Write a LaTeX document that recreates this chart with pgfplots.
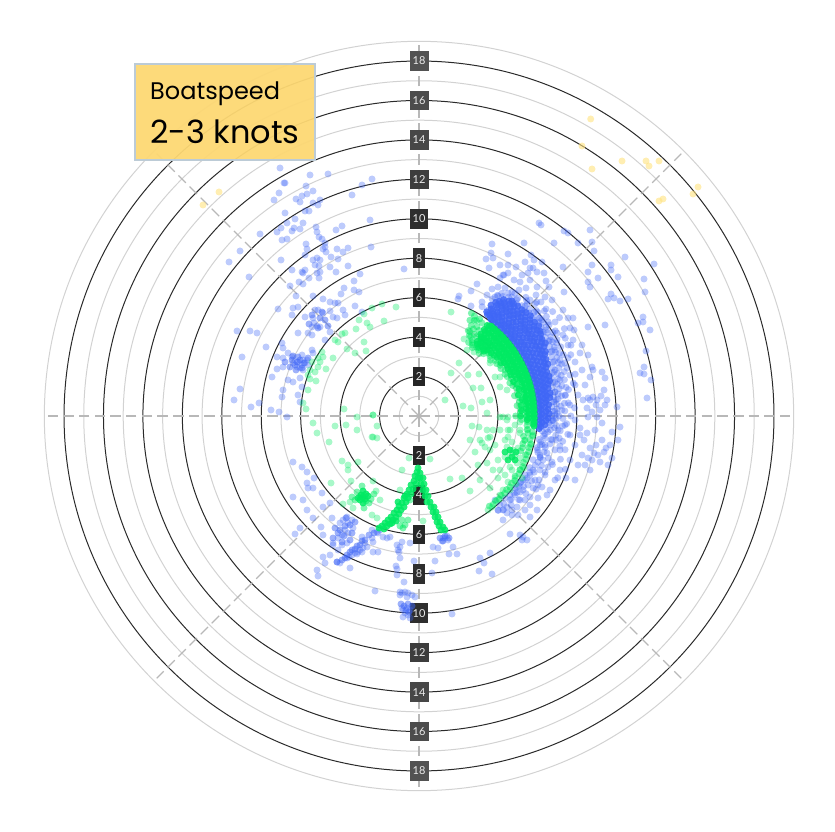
\documentclass[border=0pt]{standalone}
\usepackage{pgfplots}
\pgfplotsset{compat=1.18}
\usepgfplotslibrary{polar}
\usepackage{fontspec}
\setmainfont{Lato}
\newfontfamily\boxfont{Poppins}
\definecolor{ringk}{HTML}{2A2A2A}
\definecolor{ringg}{HTML}{D2D2D2}
\definecolor{spoke}{HTML}{B8B8B8}
\definecolor{bdot}{HTML}{3F66F6}
\definecolor{gdot}{HTML}{00EA62}
\definecolor{ydot}{HTML}{FFE27E}
\definecolor{boxf}{HTML}{FDD873}
\definecolor{boxb}{HTML}{BCCBD6}
\pgfkeys{/pgfplots/table/px/.style={row sep=\\,header=false,x expr=(\thisrowno{0}-419)/19.72,y expr=(416-\thisrowno{1})/19.72}}
\pgfplotsset{
 dots/.style n args={2}{only marks,mark=*,mark size=3.5pt,mark options={draw=#1,draw opacity=0,line width=0pt,fill=#1,fill opacity=#2}},
}
% position in knots, text, box width, box grey
\newcommand{\ringlabel}[4]{\node[fill=black!#4,text=white!92!black,inner sep=0pt,minimum width=#3,minimum height=19.5pt,font=\fontsize{11}{11}\selectfont] at (axis cs:0,#1) {#2};}
\begin{document}
\begin{tikzpicture}
\useasboundingbox (0,0) rectangle (835pt,831pt);
\begin{axis}[
 at={(0,0)},anchor=south west,scale only axis,width=835pt,height=831pt,
 xmin=-21.2475,xmax=21.0953,ymin=-21.0446,ymax=21.0953,
 hide axis,clip=true]
% rings
\draw[ringg,line width=1pt] (axis cs:0,0) circle[radius=1];
\draw[ringk,line width=1pt] (axis cs:0,0) circle[radius=2];
\draw[ringg,line width=1pt] (axis cs:0,0) circle[radius=3];
\draw[ringk,line width=1pt] (axis cs:0,0) circle[radius=4];
\draw[ringg,line width=1pt] (axis cs:0,0) circle[radius=5];
\draw[ringk,line width=1pt] (axis cs:0,0) circle[radius=6];
\draw[ringg,line width=1pt] (axis cs:0,0) circle[radius=7];
\draw[ringk,line width=1pt] (axis cs:0,0) circle[radius=8];
\draw[ringg,line width=1pt] (axis cs:0,0) circle[radius=9];
\draw[ringk,line width=1pt] (axis cs:0,0) circle[radius=10];
\draw[ringg,line width=1pt] (axis cs:0,0) circle[radius=11];
\draw[ringk,line width=1pt] (axis cs:0,0) circle[radius=12];
\draw[ringg,line width=1pt] (axis cs:0,0) circle[radius=13];
\draw[ringk,line width=1pt] (axis cs:0,0) circle[radius=14];
\draw[ringg,line width=1pt] (axis cs:0,0) circle[radius=15];
\draw[ringk,line width=1pt] (axis cs:0,0) circle[radius=16];
\draw[ringg,line width=1pt] (axis cs:0,0) circle[radius=17];
\draw[ringk,line width=1pt] (axis cs:0,0) circle[radius=18];
\draw[ringg,line width=1pt] (axis cs:0,0) circle[radius=19];
% spokes
\draw[spoke,line width=1.4pt,dash pattern=on 10.5pt off 5.2pt] (axis cs:0,0)--(axis cs:18.8,0);
\draw[spoke,line width=1.4pt,dash pattern=on 10.5pt off 5.2pt] (axis cs:0,0)--(axis cs:-18.8,0);
\draw[spoke,line width=1.4pt,dash pattern=on 10.5pt off 5.2pt] (axis cs:0,0)--(axis cs:0,18.8);
\draw[spoke,line width=1.4pt,dash pattern=on 10.5pt off 5.2pt] (axis cs:0,0)--(axis cs:0,-18.8);
\draw[spoke,line width=1.1pt,dash pattern=on 10.5pt off 5.2pt] (axis cs:0,0)--(axis cs:13.3,13.3);
\draw[spoke,line width=1.1pt,dash pattern=on 10.5pt off 5.2pt] (axis cs:0,0)--(axis cs:-13.3,13.3);
\draw[spoke,line width=1.1pt,dash pattern=on 10.5pt off 5.2pt] (axis cs:0,0)--(axis cs:13.3,-13.3);
\draw[spoke,line width=1.1pt,dash pattern=on 10.5pt off 5.2pt] (axis cs:0,0)--(axis cs:-13.3,-13.3);
% yellow
\addplot[dots={ydot}{0.6}] table[px] {590.7 119\\582 146\\622 161\\592 169\\646 161\\649 166\\659 161\\698 187\\693 194\\663 199\\659 201\\219 192\\203 205\\};
% blue, scattered
\addplot[dots={bdot}{0.34}] table[px] {280 168\\310 175\\328 174\\372 179\\362 185\\285 183\\284 183\\279 193\\274 200\\296 199\\300 202\\302 196\\307 194\\313 191\\306 186\\352 195\\313 203\\318 205\\320 200\\305 211\\309 211\\285 213\\295 219\\287 223\\303 223\\277 232\\281 228\\292 231\\294 228\\300 229\\316 227\\317 232\\319 237\\322 239\\342 226\\336 230\\370 220\\260 234\\282 240\\287 239\\306 244\\307 249\\325 243\\325 247\\326 252\\323 249\\337 249\\343 252\\348 248\\371 247\\240 251\\229 262\\281 260\\305 255\\313 260\\317 258\\320 260\\315 265\\319 266\\331 257\\338 259\\330 267\\336 272\\348 266\\404 269\\249 277\\292 270\\302 272\\303 273\\305 270\\317 273\\320 272\\319 278\\309 278\\360 274\\354 281\\299 282\\303 284\\290 286\\296 296\\344 288\\341 294\\354 290\\359 292\\313 296\\323 299\\330 302\\335 303\\338 303\\278 309\\293 308\\298 307\\292 315\\305 317\\315 310\\318 310\\323 313\\330 311\\333 317\\337 318\\343 310\\345 315\\355 306\\362 312\\313 318\\314 323\\317 326\\312 327\\320 327\\330 332\\298 333\\308 333\\312 335\\325 340\\237 331\\250 331\\257 333\\266 347\\282 343\\283 348\\242 357\\277 357\\283 358\\288 353\\292 357\\302 355\\312 350\\313 353\\298 362\\302 365\\305 363\\297 367\\300 368\\303 370\\308 365\\303 360\\307 360\\293 363\\283 367\\277 369\\272 377\\288 380\\293 382\\300 378\\283 390\\282 397\\240 389\\234 400\\259 403\\251 407\\271 410\\279 412\\287 417\\298 395\\300 402\\302 387\\
539 223\\541 225\\564 231\\568 233\\590 230\\578 243\\592 242\\594 251\\554 243\\524 243\\492 244\\491 253\\508 254\\486 259\\493 258\\489 268\\500 265\\508 265\\516 267\\534 260\\542 262\\530 268\\533 268\\528 273\\522 275\\508 273\\503 275\\500 278\\520 282\\530 280\\537 287\\544 273\\546 281\\563 267\\588 272\\592 265\\611 265\\611 270\\625 257\\654 264\\618 277\\644 279\\598 278\\588 282\\590 287\\564 292\\611 294\\614 298\\608 299\\620 301\\628 299\\645 292\\492 289\\498 287\\477 284\\471 291\\459 296\\458 299\\482 302\\471 306\\487 295\\495 297\\488 310\\545 297\\530 300\\546 309\\568 318\\573 318\\574 330\\588 327\\605 325\\638 323\\643 317\\643 322\\650 330\\646 351\\644 367\\640 373\\644 374\\651 380\\647 398\\620 427\\612 432\\605 378\\604 390\\607 400\\617 407\\600 410\\597 417\\602 423\\595 430\\587 433\\580 428\\588 417\\588 398\\593 397\\597 400\\583 400\\590 377\\592 367\\593 370\\575 362\\580 353\\582 345\\573 340\\563 335\\568 358\\557 333\\
445 538\\447 536\\442 541\\443 538\\448 540\\433 547\\438 548\\449 554\\457 554\\453 547\\435 561\\432 573\\414 561\\396 566\\400 558\\397 569\\397 575\\404 582\\400 592\\402 593\\405 592\\400 595\\408 593\\407 597\\412 595\\415 597\\375 591\\403 610\\407 608\\410 610\\405 613\\408 615\\403 617\\410 618\\452 614\\402 608\\400 547\\398 550\\402 542\\397 545\\399 552\\410 543\\377 532\\372 538\\373 542\\378 533\\367 547\\363 548\\362 552\\358 552\\355 553\\352 555\\360 550\\357 554\\349 557\\365 543\\380 530\\383 537\\387 538\\390 537\\373 552\\378 552\\372 530\\362 537\\343 520\\347 517\\340 523\\348 523\\352 520\\353 528\\345 530\\342 535\\338 538\\333 545\\348 533\\347 543\\342 545\\338 550\\323 557\\325 563\\337 562\\340 563\\330 555\\317 570\\318 576\\350 568\\347 558\\332 518\\313 518\\307 510\\303 500\\308 488\\313 488\\293 462\\302 467\\307 472\\314 478\\307 483\\293 497\\322 493\\323 507\\330 503\\321 527\\323 535\\295 534\\300 528\\333 543\\480 558\\484 563\\479 571\\492 574\\490 553\\503 510\\507 513\\512 510\\503 520\\507 507\\517 507\\510 534\\520 535\\523 537\\527 540\\522 540\\530 517\\538 498\\537 510\\523 490\\520 483\\523 480\\528 485\\533 488\\540 470\\543 460\\547 453\\548 467\\540 457\\545 475\\542 487\\547 495\\520 492\\530 497\\517 487\\
495 500\\500 505\\505 498\\510 500\\515 495\\520 500\\525 500\\512 515\\498 510\\518 515\\525 510\\530 505\\535 480\\538 485\\530 475\\527 478\\533 470\\538 462\\545 445\\552 440\\558 430\\565 425\\570 435\\575 445\\582 455\\578 465\\570 460\\560 450\\552 462\\560 470\\566 478\\555 480\\550 490\\575 480\\590 470\\585 465\\592 460\\598 455\\604 452\\612 458\\608 465\\596 445\\590 448\\584 440\\602 440\\610 445\\618 440\\575 420\\580 435\\555 415\\562 410\\570 405\\578 395\\575 385\\565 395\\556 400\\585 385\\570 375\\560 380\\555 370\\548 385\\550 395\\560 360\\568 345\\555 350\\570 328\\582 370\\588 355\\602 372\\553 420\\548 432\\556 440\\540 445\\
504 275\\514 280\\525 262\\531 255\\519 290\\526 288\\537 272\\512 292\\536 295\\541 302\\549 287\\552 300\\505 288\\498 296\\540 318\\555 322\\563 310\\590 400\\596 405\\601 396\\587 408\\592 412\\605 405\\594 453\\588 458\\600 462\\606 448\\};
% blue, dense knots
\addplot[dots={bdot}{0.5}] table[px] {297 362\\295 365\\300 360\\292 360\\302 368\\298 357\\304 363\\290 367\\296 370\\308 358\\293 356\\285 362\\320 318\\325 320\\312 315\\322 312\\328 326\\309 324\\318 328\\345 558\\350 552\\355 549\\360 545\\365 540\\369 535\\342 560\\347 555\\352 550\\357 546\\362 541\\337 562\\374 533\\345 526\\340 530\\350 525\\344 536\\338 533\\352 533\\346 518\\335 528\\355 522\\342 542\\350 540\\333 538\\408 604\\404 606\\412 606\\406 610\\401 604\\409 612\\445 536\\440 538\\449 538\\443 541\\};
% blue arc, polar: angle counter-clockwise from the right, speed in knots
\addplot[dots={bdot}{0.85},data cs=polar] coordinates {
(57,6.3)(57,6.7)(56,6.2)(56,6.55)(56,6.95)(55,6.25)(55,6.5)(55,6.85)(55,7.1)
(54,6.15)(54,6.4)(54,6.75)(54,7.05)(54,7.3)(53,6.1)(53,6.35)(53,6.6)(53,6.95)(53,7.2)
(52,6.2)(52,6.5)(52,6.8)(52,7.1)(52,7.4)(51,6.12)(51,6.45)(51,6.7)(51,7.0)(51,7.3)(51,7.5)
(50,6.25)(50,6.55)(50,6.9)(50,7.2)(50,7.45)(49,6.1)(49,6.4)(49,6.75)(49,7.05)(49,7.35)
(48,6.2)(48,6.5)(48,6.85)(48,7.15)(48,7.5)(47,6.1)(47,6.35)(47,6.7)(47,7.0)(47,7.3)
(46,6.25)(46,6.55)(46,6.9)(46,7.2)(46,7.5)(45,6.12)(45,6.45)(45,6.75)(45,7.1)(45,7.4)
(44,6.2)(44,6.5)(44,6.85)(44,7.2)(44,7.55)(43,6.1)(43,6.4)(43,6.7)(43,7.05)(43,7.35)
(42,6.25)(42,6.6)(42,6.95)(42,7.25)(42,7.6)(41,6.15)(41,6.45)(41,6.8)(41,7.1)(41,7.45)
(40,6.1)(40,6.35)(40,6.7)(40,7.0)(40,7.35)(39,6.2)(39,6.55)(39,6.9)(39,7.2)(39,7.55)
(38,6.12)(38,6.45)(38,6.8)(38,7.1)(38,7.4)(37,6.25)(37,6.6)(37,6.95)(37,7.3)(37,7.6)
(36,6.1)(36,6.4)(36,6.75)(36,7.05)(36,7.4)(35,6.2)(35,6.5)(35,6.85)(35,7.2)(35,7.5)
(34,6.12)(34,6.45)(34,6.8)(34,7.1)(34,7.45)(33,6.25)(33,6.6)(33,6.95)(33,7.3)
(32,6.1)(32,6.4)(32,6.75)(32,7.05)(32,7.35)(31,6.2)(31,6.55)(31,6.9)(31,7.25)
(30,6.12)(30,6.45)(30,6.8)(30,7.1)(30,7.4)(29,6.25)(29,6.6)(29,6.95)(29,7.25)
(28,6.1)(28,6.4)(28,6.75)(28,7.05)(27,6.2)(27,6.55)(27,6.9)(27,7.2)
(26,6.12)(26,6.45)(26,6.8)(26,7.1)(25,6.25)(25,6.6)(25,6.95)
(24,6.1)(24,6.4)(24,6.75)(24,7.05)(23,6.2)(23,6.55)(23,6.9)
(22,6.12)(22,6.45)(22,6.8)(22,7.05)(21,6.25)(21,6.6)(21,6.9)
(20,6.1)(20,6.4)(20,6.7)(19,6.2)(19,6.55)(19,6.85)(18,6.12)(18,6.45)(18,6.75)
(17,6.25)(17,6.6)(17,6.9)(16,6.1)(16,6.4)(16,6.7)(15,6.2)(15,6.5)(15,6.85)
(14,6.12)(14,6.45)(14,6.75)(13,6.25)(13,6.55)(12,6.1)(12,6.4)(12,6.7)(11,6.2)(11,6.5)
(10,6.12)(10,6.45)(10,6.75)(9,6.25)(9,6.55)(8,6.1)(8,6.4)(8,6.7)(7,6.2)(7,6.5)
(6,6.12)(6,6.45)(5,6.25)(5,6.6)(4,6.1)(4,6.4)(3,6.2)(3,6.55)(2,6.12)(2,6.45)
(1,6.25)(1,6.6)(0,6.1)(0,6.4)(-1,6.2)(-1,6.55)(-2,6.12)(-2,6.45)(-3,6.25)(-4,6.1)(-4,6.4)(-5,6.2)(-6,6.12)
};
\addplot[dots={bdot}{0.36},data cs=polar] coordinates {
(60,6.4)(58,7.0)(57,7.3)(56,7.5)(54,7.7)(52,7.9)(50,7.8)(48,8.1)(46,7.9)(44,8.2)(42,8.0)(40,8.3)(38,7.9)(36,8.1)(34,7.8)(32,8.0)(30,7.7)(28,7.9)(26,7.5)(24,7.8)(22,7.4)(20,7.7)(18,7.2)(16,7.5)(14,7.1)(12,7.4)(10,7.0)(8,7.3)(6,6.9)(4,7.2)(2,6.9)(0,7.1)(-2,6.8)(-4,7.0)(-6,6.7)(-8,7.0)(-10,6.5)(-12,6.8)(-14,7.1)(-16,6.6)(-18,6.9)(-20,7.2)(-22,6.7)(-24,7.0)(-26,6.5)(-28,6.9)(-30,6.6)(-32,7.0)(-34,6.4)(-36,6.7)(-38,6.3)(-40,6.6)(-42,6.3)(-44,6.5)(-46,6.2)(-48,6.4)(-50,6.25)(-3,6.6)(-5,6.9)(-7,6.3)(-9,6.4)(-11,6.2)(-13,6.4)(-15,6.2)(-17,6.3)(-19,6.5)(-21,6.2)(-23,6.4)(-25,6.2)(-27,6.3)(-29,6.15)(-31,6.3)(-33,6.15)(-35,6.2)(-37,6.1)(-39,6.2)(-41,6.1)(10,7.7)(12,8.0)(15,8.2)(18,7.9)(22,8.3)(25,8.5)(28,8.4)(31,8.6)(35,8.7)(38,8.6)(5,7.6)(3,7.9)(0,7.7)(-3,7.5)(-7,7.6)(-10,7.4)(-13,7.6)(-17,7.5)(-20,7.9)(-24,7.7)
(55,7.4)(53,7.55)(52,7.65)(50,7.7)(49,7.55)(47,7.65)(46,7.75)(45,7.6)(44,7.8)(43,7.65)(42,7.85)(41,7.7)(40,7.6)(39,7.85)(38,7.7)(37,7.9)(36,7.65)(35,7.85)(34,7.6)(33,7.75)(32,7.55)(31,7.8)(30,7.6)(29,7.75)(28,7.5)(27,7.7)(26,7.4)(25,7.65)(24,7.35)(23,7.6)(22,7.3)(21,7.55)(20,7.2)(19,7.5)(18,7.1)(17,7.35)(16,7.0)(15,7.3)(14,7.0)(13,7.2)(12,6.95)(11,7.25)(10,7.0)(9,7.15)(8,6.9)(7,7.1)(6,6.8)(5,7.0)(4,6.75)(3,7.0)(2,6.8)(1,7.0)(0,6.75)(-1,6.95)(-2,6.75)(-4,6.7)(-6,6.5)(-8,6.45)(-10,6.8)(-12,6.3)(-14,6.6)(-16,6.25)(-18,6.45)
(47,8.0)(44,8.3)(41,8.0)(38,8.2)(35,8.05)(32,8.15)(29,8.0)(26,8.0)(23,7.95)(20,7.85)(17,7.7)(14,7.6)(11,7.6)(8,7.5)(5,7.4)(2,7.4)(-1,7.3)(-4,7.3)(-6,7.2)(-9,7.2)(-12,7.3)
};
% green
\addplot[dots={gdot}{0.34}] table[px] {313 423\\317 433\\335 426\\346 425\\329 442\\357 430\\373 415\\377 426\\373 437\\377 438\\372 437\\342 461\\348 465\\348 470\\331 483\\351 481\\358 462\\402 470\\409 458\\430 459\\450 479\\470 491\\373 481\\376 491\\350 502\\343 504\\353 508\\380 500\\372 515\\377 518\\423 521\\400 490\\
482 443\\485 447\\480 440\\490 450\\488 438\\495 445\\500 430\\505 440\\510 453\\513 450\\517 463\\510 467\\505 457\\515 455\\520 458\\507 447\\512 442\\518 448\\512 470\\505 475\\520 470\\515 478\\508 482\\503 490\\497 500\\492 507\\500 495\\510 490\\516 484\\524 468\\522 478\\527 455\\530 445\\533 435\\525 440\\520 430\\527 430\\534 425\\527 420\\520 422\\507 420\\503 417\\515 425\\508 430\\498 460\\493 470\\487 463\\500 470\\478 465\\470 440\\475 452\\462 478\\480 480\\490 488\\498 478\\488 510\\
451 312\\464 339\\467 350\\474 352\\483 347\\459 363\\451 373\\468 375\\479 374\\445 400\\463 406\\471 408\\481 388\\473 388\\490 363\\495 377\\500 377\\490 400\\482 402\\487 413\\507 390\\500 387\\479 427\\472 426\\487 430\\493 430\\510 430\\508 417\\500 417\\520 433\\490 437\\508 437\\
382 304\\396 307\\372 308\\384 321\\364 314\\359 320\\367 323\\370 327\\356 329\\345 333\\342 334\\338 342\\335 340\\364 342\\347 349\\366 351\\355 353\\333 358\\323 357\\320 362\\318 367\\326 369\\315 372\\310 379\\316 381\\308 390\\303 403\\306 409\\344 409\\357 417\\373 415\\310 370\\312 362\\318 358\\322 352\\308 375\\};
\addplot[dots={gdot}{0.85}] table[px] {363 497\\361 495\\365 499\\358 498\\368 496\\363 491\\363 503\\360 500\\366 494\\
418 468\\417 472\\420 473\\415 476\\418 478\\414 481\\416 484\\411 485\\413 489\\409 490\\411 494\\407 494\\408 498\\404 498\\406 502\\402 503\\404 507\\399 506\\401 510\\397 510\\399 514\\394 513\\396 517\\391 517\\393 520\\388 520\\390 524\\385 523\\387 526\\382 526\\384 529\\379 528\\405 496\\398 502\\392 523\\396 521\\
420 478\\423 478\\424 484\\421 484\\426 490\\423 490\\428 496\\425 496\\430 502\\427 502\\431 507\\434 507\\433 512\\436 512\\435 517\\438 517\\437 522\\440 522\\439 526\\443 527\\441 530\\445 530\\
512 457\\508 460\\515 460\\510 450\\516 452\\505 452\\};
\addplot[dots={gdot}{0.5}] table[px] {355 500\\371 499\\362 486\\364 508\\357 492\\369 503\\352 497\\374 494\\360 497\\366 501\\410 500\\403 528\\400 526\\405 525\\408 520\\402 520\\};
\addplot[dots={gdot}{0.85},data cs=polar] coordinates {
(53,5.75)(53,5.5)(53,5.2)(52,5.8)(52,5.45)(52,5.1)(52,4.8)(51,5.85)(51,5.6)(51,5.3)(51,5.0)(51,4.7)
(50,5.8)(50,5.5)(50,5.15)(50,4.85)(49,5.85)(49,5.6)(49,5.25)(49,4.95)(49,4.6)(48,5.8)(48,5.45)(48,5.1)(48,4.75)
(47,5.85)(47,5.55)(47,5.2)(47,4.9)(46,5.8)(46,5.5)(46,5.15)(46,4.7)(45,5.85)(45,5.6)(45,5.3)(45,4.95)(45,4.65)
(44,5.8)(44,5.45)(44,5.1)(44,4.8)(43,5.85)(43,5.55)(43,5.25)(43,4.9)(42,5.8)(42,5.5)(42,5.15)(41,5.85)(41,5.6)(41,5.3)(41,4.85)
(40,5.8)(40,5.45)(40,5.1)(39,5.85)(39,5.55)(39,5.25)(39,4.9)(38,5.8)(38,5.5)(38,5.15)(37,5.85)(37,5.6)(37,5.3)(37,4.95)
(36,5.8)(36,5.45)(36,5.1)(35,5.85)(35,5.55)(35,5.25)(34,5.8)(34,5.5)(34,5.15)(33,5.85)(33,5.6)(33,5.3)(33,4.95)
(32,5.8)(32,5.45)(32,5.1)(31,5.85)(31,5.55)(31,5.25)(30,5.8)(30,5.5)(30,5.15)(29,5.85)(29,5.6)(29,5.3)
(28,5.8)(28,5.45)(28,5.1)(27,5.85)(27,5.55)(27,5.25)(26,5.8)(26,5.5)(26,5.15)(25,5.85)(25,5.6)(25,5.3)
(24,5.8)(24,5.45)(24,5.1)(23,5.85)(23,5.55)(23,5.25)(22,5.8)(22,5.5)(21,5.85)(21,5.6)(21,5.3)
(20,5.8)(20,5.45)(20,5.1)(19,5.85)(19,5.55)(18,5.8)(18,5.5)(18,5.2)(17,5.85)(17,5.6)(16,5.8)(16,5.45)(15,5.85)(15,5.55)(15,5.25)
(14,5.8)(14,5.5)(13,5.85)(13,5.6)(12,5.8)(12,5.45)(12,5.15)(11,5.85)(11,5.55)(10,5.8)(10,5.5)(9,5.85)(9,5.6)(9,5.3)
(8,5.8)(8,5.45)(7,5.85)(7,5.55)(6,5.8)(6,5.5)(6,5.2)(5,5.85)(5,5.6)(4,5.8)(4,5.45)(3,5.85)(3,5.55)(3,5.2)
(2,5.8)(2,5.5)(1,5.85)(1,5.6)(0,5.8)(0,5.45)(0,5.15)(-1,5.85)(-1,5.55)(-2,5.8)(-2,5.5)(-3,5.85)(-4,5.8)(-5,5.85)
};
\addplot[dots={gdot}{0.5},data cs=polar] coordinates {
(-8,5.8)(-10,5.85)(-12,5.75)(-14,5.85)(-16,5.8)(-18,5.85)(-20,5.75)(-22,5.85)(-24,5.8)(-26,5.85)(-28,5.8)(-30,5.85)(-32,5.75)(-34,5.85)(-36,5.8)(-38,5.85)(-40,5.8)(-42,5.85)(-44,5.8)(-46,5.85)(-48,5.8)(-50,5.85)(-52,5.8)
(56,5.7)(57,5.4)(58,5.8)(55,5.3)(56,5.0)(54,5.0)(58,5.2)(60,5.6)(59,5.0)(60,5.3)(55,4.7)(53,4.5)(57,4.8)
(48,4.5)(46,4.4)(44,4.55)(42,4.75)(40,4.7)(38,4.6)(36,4.8)(34,4.75)(32,4.85)(30,4.8)(28,4.95)(26,4.85)(24,4.9)(22,5.05)(20,4.9)(18,5.0)(16,5.15)(14,5.2)(12,4.95)(10,5.2)(8,5.15)(6,5.0)(4,5.2)(2,5.15)(0,4.9)(-2,5.2)(-3,5.5)(-5,5.5)(-7,5.55)(-9,5.6)(-11,5.4)(-13,5.5)(-15,5.45)(-17,5.5)(-19,5.45)
(62,5.5)(60,5.0)(58,4.8)(56,4.5)(54,4.6)(52,4.4)(50,4.55)(61,5.8)(63,5.85)(59,5.65)
};
% speed labels
\ringlabel{2}{2}{12pt}{85}
\ringlabel{4}{4}{12pt}{85}
\ringlabel{6}{6}{12pt}{85}
\ringlabel{8}{8}{12pt}{82}
\ringlabel{10}{10}{18pt}{82}
\ringlabel{12}{12}{19pt}{76}
\ringlabel{14}{14}{19pt}{72}
\ringlabel{16}{16}{19pt}{70}
\ringlabel{18}{18}{19pt}{68}
\ringlabel{-2}{2}{12pt}{85}
\ringlabel{-4}{4}{12pt}{85}
\ringlabel{-6}{6}{12pt}{85}
\ringlabel{-8}{8}{12pt}{82}
\ringlabel{-10}{10}{18pt}{82}
\ringlabel{-12}{12}{19pt}{76}
\ringlabel{-14}{14}{19pt}{72}
\ringlabel{-16}{16}{19pt}{70}
\ringlabel{-18}{18}{19pt}{68}
% title box
\draw[boxb,line width=2pt,fill=boxf,fill opacity=0.95] (axis cs:-14.40,17.85) rectangle (axis cs:-5.27,12.98);
\node[anchor=base west,inner sep=0pt,font=\boxfont\fontsize{24}{24}\selectfont] at (axis cs:-13.64,16.07) {Boatspeed};
\node[anchor=base west,inner sep=0pt,font=\boxfont\fontsize{32}{32}\selectfont] at (axis cs:-13.64,13.84) {2-3 knots};
\end{axis}
\end{tikzpicture}
\end{document}
